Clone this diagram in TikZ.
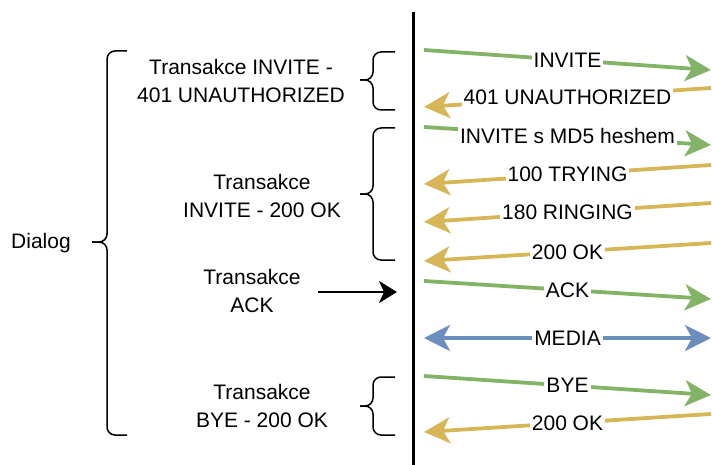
\documentclass[tikz,border=0pt]{standalone}
\usepackage{fontspec}
\setmainfont{Liberation Sans}
\usetikzlibrary{arrows.meta}

\definecolor{msggreen}{HTML}{82B366}
\definecolor{msgyellow}{HTML}{D6B656}
\definecolor{msgblue}{HTML}{6C8EBF}

\tikzset{
  tip/.tip={Stealth[length=13pt,width=13pt,inset=3.5pt]},
  msg/.style={line width=1.9pt, -tip},
  lbl/.style={fill=white, inner sep=1pt, text=black},
  txt/.style={align=center},
  brace/.style={line width=0.75pt, rounded corners=4pt},
}

\begin{document}
\begin{tikzpicture}[x=0.5pt, y=-0.5pt, font=\fontsize{10.5}{14}\selectfont]
          \useasboundingbox (0,0) rectangle (712,465);
          % left side
          \node (dlg) at (41,243) {Dialog};
          \node[txt] (tinv1) at (241,81) {Transakce INVITE -\\401 UNAUTHORIZED};
          \node[txt] (tinv2) at (262,196) {Transakce\\INVITE - 200 OK};
          \node[txt] (tack) at (252,291) {Transakce\\ACK};
          \node[txt] (tbye) at (262,406) {Transakce\\BYE - 200 OK};
          % braces
          \draw[brace] (127,51) -- (107,51) -- (107,242) -- (92,242);
          \draw[brace] (127,435) -- (107,435) -- (107,242) -- (92,242);
          \draw[brace] (395,52) -- (373,52) -- (373,80) -- (360,80);
          \draw[brace] (395,110) -- (373,110) -- (373,80) -- (360,80);
          \draw[brace] (395,128) -- (373,128) -- (373,194) -- (360,194);
          \draw[brace] (395,260) -- (373,260) -- (373,194) -- (360,194);
          \draw[brace] (395,377) -- (373,377) -- (373,406) -- (360,406);
          \draw[brace] (395,435) -- (373,435) -- (373,406) -- (360,406);
          \coordinate (ackfrom) at (318,292);
          \coordinate (ackto) at (397,292);
          \draw[line width=1pt, -{Stealth[length=9pt,width=11pt,inset=2.5pt]}] (ackfrom) to (ackto);
          % lifeline
          \coordinate (ltop) at (413,12);
          \coordinate (lbot) at (413,465);
          \draw[line width=1.5pt] (ltop) -- (lbot);
          % messages
          \coordinate (m1a) at (424,50);  \coordinate (m1b) at (711,70);
          \coordinate (m2a) at (711,88);  \coordinate (m2b) at (424,107);
          \coordinate (m3a) at (424,127); \coordinate (m3b) at (711,145);
          \coordinate (m4a) at (711,165); \coordinate (m4b) at (424,184);
          \coordinate (m5a) at (711,203); \coordinate (m5b) at (424,222);
          \coordinate (m6a) at (711,243); \coordinate (m6b) at (424,261);
          \coordinate (m7a) at (424,281); \coordinate (m7b) at (711,299);
          \coordinate (m8a) at (424,338); \coordinate (m8b) at (711,338);
          \coordinate (m9a) at (424,376); \coordinate (m9b) at (711,395);
          \coordinate (m10a) at (711,414); \coordinate (m10b) at (424,432);
          \draw[msg, msggreen] (m1a) to node[lbl]{INVITE} (m1b);
          \draw[msg, msgyellow] (m2a) to node[lbl]{401 UNAUTHORIZED} (m2b);
          \draw[msg, msggreen] (m3a) to node[lbl]{INVITE s MD5 heshem} (m3b);
          \draw[msg, msgyellow] (m4a) to node[lbl]{100 TRYING} (m4b);
          \draw[msg, msgyellow] (m5a) to node[lbl]{180 RINGING} (m5b);
          \draw[msg, msgyellow] (m6a) to node[lbl]{200 OK} (m6b);
          \draw[msg, msggreen] (m7a) to node[lbl]{ACK} (m7b);
          \draw[msg, msgblue, tip-tip] (m8a) to node[lbl]{MEDIA} (m8b);
          \draw[msg, msggreen] (m9a) to node[lbl]{BYE} (m9b);
          \draw[msg, msgyellow] (m10a) to node[lbl]{200 OK} (m10b);
        \end{tikzpicture}
\end{document}
